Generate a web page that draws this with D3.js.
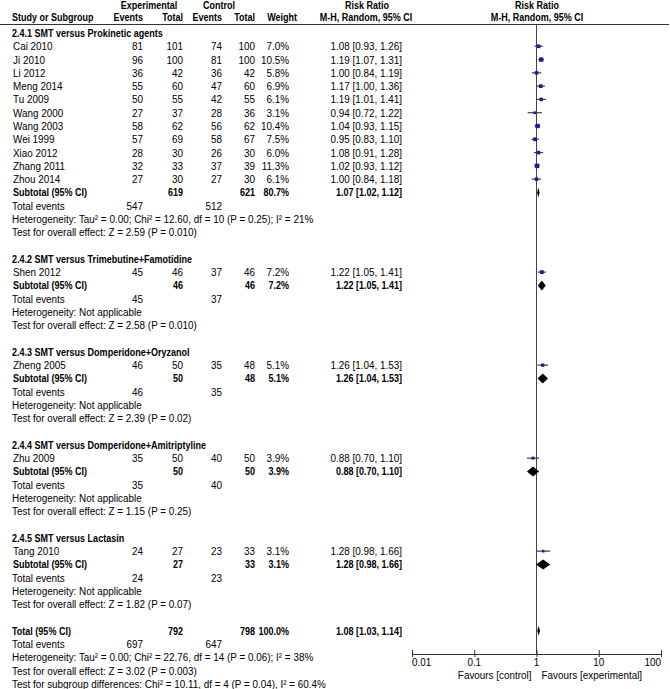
<!DOCTYPE html>
<html>
<head>
<meta charset="utf-8">
<script src="https://cdn.jsdelivr.net/npm/d3@7"></script>
<style>
  body { margin: 0; background: #fff; }
  svg { display: block; font-family: "Liberation Sans", Arial, sans-serif; font-size: 11px; }
  .b { font-weight: bold; }
</style>
</head>
<body>
<svg id="chart"></svg>
<script>
//Study level data
const studyNames = ["Cai 2010", "Ji 2010", "Li 2012", "Meng 2014", "Tu 2009", "Wang 2000", "Wang 2003", "Wei 1999", "Xiao 2012", "Zhang 2011", "Zhou 2014", "Shen 2012", "Zheng 2005", "Zhu 2009", "Tang 2010"];
const studyGroup = [0, 0, 0, 0, 0, 0, 0, 0, 0, 0, 0, 1, 2, 3, 4];
const expEvents = [81, 96, 36, 55, 50, 27, 58, 57, 28, 32, 27, 45, 46, 35, 24];
const expTotals = [101, 100, 42, 60, 55, 37, 62, 69, 30, 33, 30, 46, 50, 50, 27];
const ctlEvents = [74, 81, 36, 47, 42, 28, 56, 58, 26, 37, 27, 37, 35, 40, 23];
const ctlTotals = [100, 100, 42, 60, 55, 36, 62, 67, 30, 39, 30, 46, 48, 50, 33];
const weights = [7.0, 10.5, 5.8, 6.9, 6.1, 3.1, 10.4, 7.5, 6.0, 11.3, 6.1, 7.2, 5.1, 3.9, 3.1];
const ratios = [1.08, 1.19, 1.00, 1.17, 1.19, 0.94, 1.04, 0.95, 1.08, 1.02, 1.00, 1.22, 1.26, 0.88, 1.28];
const ciLow = [0.93, 1.07, 0.84, 1.00, 1.01, 0.72, 0.93, 0.83, 0.91, 0.93, 0.84, 1.05, 1.04, 0.70, 0.98];
const ciHigh = [1.26, 1.31, 1.19, 1.36, 1.41, 1.22, 1.15, 1.10, 1.28, 1.12, 1.18, 1.41, 1.53, 1.10, 1.66];

//Subgroup data
const groupTitles = ["2.4.1 SMT versus Prokinetic agents", "2.4.2 SMT versus Trimebutine+Famotidine", "2.4.3 SMT versus Domperidone+Oryzanol", "2.4.4 SMT versus Domperidone+Amitriptyline", "2.4.5 SMT versus Lactasin"];
const subExpTotals = [619, 46, 50, 50, 27];
const subCtlTotals = [621, 46, 48, 50, 33];
const subWeights = [80.7, 7.2, 5.1, 3.9, 3.1];
const subRatios = [1.07, 1.22, 1.26, 0.88, 1.28];
const subLow = [1.02, 1.05, 1.04, 0.70, 0.98];
const subHigh = [1.12, 1.41, 1.53, 1.10, 1.66];
const subExpEvents = [547, 45, 46, 35, 24];
const subCtlEvents = [512, 37, 35, 40, 23];
const subHetero = ["Heterogeneity: Tau² = 0.00; Chi² = 12.60, df = 10 (P = 0.25); I² = 21%", "Heterogeneity: Not applicable", "Heterogeneity: Not applicable", "Heterogeneity: Not applicable", "Heterogeneity: Not applicable"];
const subTests = ["Test for overall effect: Z = 2.59 (P = 0.010)", "Test for overall effect: Z = 2.58 (P = 0.010)", "Test for overall effect: Z = 2.39 (P = 0.02)", "Test for overall effect: Z = 1.15 (P = 0.25)", "Test for overall effect: Z = 1.82 (P = 0.07)"];

//Overall data
const totalExp = 792, totalCtl = 798, totalWeight = 100.0;
const totalRatio = [1.08, 1.03, 1.14];
const totalEvents = [697, 647];
const totalNotes = ["Heterogeneity: Tau² = 0.00; Chi² = 22.76, df = 14 (P = 0.06); I² = 38%", "Test for overall effect: Z = 3.02 (P = 0.003)", "Test for subgroup differences: Chi² = 10.11, df = 4 (P = 0.04), I² = 60.4%"];
const axisTicks = [0.01, 0.1, 1, 10, 100];
const axisLabels = ["0.01", "0.1", "1", "10", "100"];

//Setting svg element
const width = 670;
const height = 689;
const svg = d3.select("#chart").attr("width", width).attr("height", height);
svg.append("rect").attr("width", width).attr("height", height).attr("fill", "#fff");

const f2 = d3.format(".2f");
const fw = w => d3.format(".1f")(w) + "%";
const ciText = (r, l, h) => `${f2(r)} [${f2(l)}, ${f2(h)}]`;
//text in the picture is narrower than Liberation Sans
const squeeze = 0.9;
const squeezeBold = 0.82;

//text helper: anchor + horizontal squeeze
const put = (parent, x, y, txt, anchor, bold) => parent.append("text")
  .attr("transform", `translate(${x}, ${y}) scale(${bold ? squeezeBold : squeeze}, 1)`)
  .attr("text-anchor", anchor || "start")
  .attr("class", bold ? "b" : null)
  .text(txt);

//Build row list
const rows = [];
groupTitles.forEach((title, g) => {
  rows.push({type: "title", text: title});
  studyNames.forEach((name, i) => {
    if (studyGroup[i] === g) rows.push({type: "study", i});
  });
  rows.push({type: "subtotal", g});
  rows.push({type: "events", e: subExpEvents[g], c: subCtlEvents[g]});
  rows.push({type: "note", text: subHetero[g]});
  rows.push({type: "note", text: subTests[g]});
  rows.push({type: "blank"});
});
rows.push({type: "total"});
rows.push({type: "events", e: totalEvents[0], c: totalEvents[1]});
totalNotes.forEach(t => rows.push({type: "note", text: t}));

const rowY = d3.scaleLinear().domain([0, rows.length - 1]).range([37, 688]);
const xScale = d3.scaleLog().domain([0.01, 100]).range([412, 661]);

//Columns (right edges)
const col = {name: 12, expE: 143, expT: 183, ctlE: 222, ctlT: 255, weight: 289, rr: 402};

//Header
const head = svg.append("g");
put(head, 149, 9, "Experimental", "middle", true);
put(head, 219, 9, "Control", "middle", true);
put(head, 367, 9, "Risk Ratio", "middle", true);
put(head, 537, 9, "Risk Ratio", "middle", true);
put(head, col.name, 21, "Study or Subgroup", "start", true);
put(head, col.expE, 21, "Events", "end", true);
put(head, col.expT, 21, "Total", "end", true);
put(head, col.ctlE, 21, "Events", "end", true);
put(head, col.ctlT, 21, "Total", "end", true);
put(head, 297, 21, "Weight", "end", true);
put(head, 366, 21, "M-H, Random, 95% CI", "middle", true);
put(head, 537, 21, "M-H, Random, 95% CI", "middle", true);
svg.append("line").attr("x1", 0).attr("x2", 669).attr("y1", 24.5).attr("y2", 24.5).attr("stroke", "#333").attr("stroke-width", 1.2);

//Vertical line of no effect
svg.append("line").attr("x1", xScale(1)).attr("x2", xScale(1)).attr("y1", 24).attr("y2", 654).attr("stroke", "#444").attr("stroke-width", 1);

const body = svg.append("g");

const diamond = (y, r, l, h) => {
  const cy = y - 4;
  body.append("path")
    .attr("d", `M${xScale(l)},${cy} L${xScale(r)},${cy - 5} L${xScale(h)},${cy} L${xScale(r)},${cy + 5} Z`)
    .attr("fill", "#000");
};

rows.forEach((row, k) => {
  const y = rowY(k);
  if (row.type === "title") {
    put(body, col.name, y, row.text, "start", true);
  } else if (row.type === "study") {
    const i = row.i;
    put(body, col.name + 1, y, studyNames[i]);
    put(body, col.expE, y, expEvents[i], "end");
    put(body, col.expT, y, expTotals[i], "end");
    put(body, col.ctlE, y, ctlEvents[i], "end");
    put(body, col.ctlT, y, ctlTotals[i], "end");
    put(body, col.weight, y, fw(weights[i]), "end");
    put(body, col.rr, y, ciText(ratios[i], ciLow[i], ciHigh[i]), "end");
    const cy = y - 4;
    body.append("line").attr("x1", xScale(ciLow[i])).attr("x2", xScale(ciHigh[i])).attr("y1", cy).attr("y2", cy).attr("stroke", "#3a3a50").attr("stroke-width", 1.2);
    const s = 1.1 * Math.sqrt(weights[i]) + 0.8;
    body.append("rect").attr("x", xScale(ratios[i]) - s / 2).attr("y", cy - s / 2).attr("width", s).attr("height", s).attr("fill", "#1b1b9e");
  } else if (row.type === "subtotal") {
    const g = row.g;
    put(body, col.name + 1, y, "Subtotal (95% CI)", "start", true);
    put(body, col.expT, y, subExpTotals[g], "end", true);
    put(body, col.ctlT, y, subCtlTotals[g], "end", true);
    put(body, col.weight, y, fw(subWeights[g]), "end", true);
    put(body, col.rr, y, ciText(subRatios[g], subLow[g], subHigh[g]), "end", true);
    diamond(y, subRatios[g], subLow[g], subHigh[g]);
  } else if (row.type === "events") {
    put(body, col.name, y, "Total events");
    put(body, col.expE, y, row.e, "end");
    put(body, col.ctlE, y, row.c, "end");
  } else if (row.type === "note") {
    put(body, col.name, y, row.text);
  } else if (row.type === "total") {
    put(body, col.name, y, "Total (95% CI)", "start", true);
    put(body, col.expT, y, totalExp, "end", true);
    put(body, col.ctlT, y, totalCtl, "end", true);
    put(body, col.weight, y, fw(totalWeight), "end", true);
    put(body, col.rr, y, ciText(...totalRatio), "end", true);
    diamond(y, ...totalRatio);
  }
});

//Axis
const axisY = 654;
const xAxis = d3.axisBottom(xScale).tickValues(axisTicks).tickFormat("").tickSizeOuter(0).tickSize(3);
const ax = svg.append("g").attr("transform", `translate(0, ${axisY})`).call(xAxis);
ax.select(".domain").attr("stroke", "#333");
ax.selectAll(".tick line").attr("y1", -4).attr("y2", 3).attr("stroke", "#333");
const lab = svg.append("g");
axisTicks.forEach((t, i) => {
  const anchor = i === 0 ? "start" : (i === axisTicks.length - 1 ? "end" : "middle");
  put(lab, xScale(t), axisY + 12, axisLabels[i], anchor);
});
put(lab, xScale(1) - 5, 679, "Favours [control]", "end");
put(lab, xScale(1) + 5, 679, "Favours [experimental]", "start");
</script>
</body>
</html>
